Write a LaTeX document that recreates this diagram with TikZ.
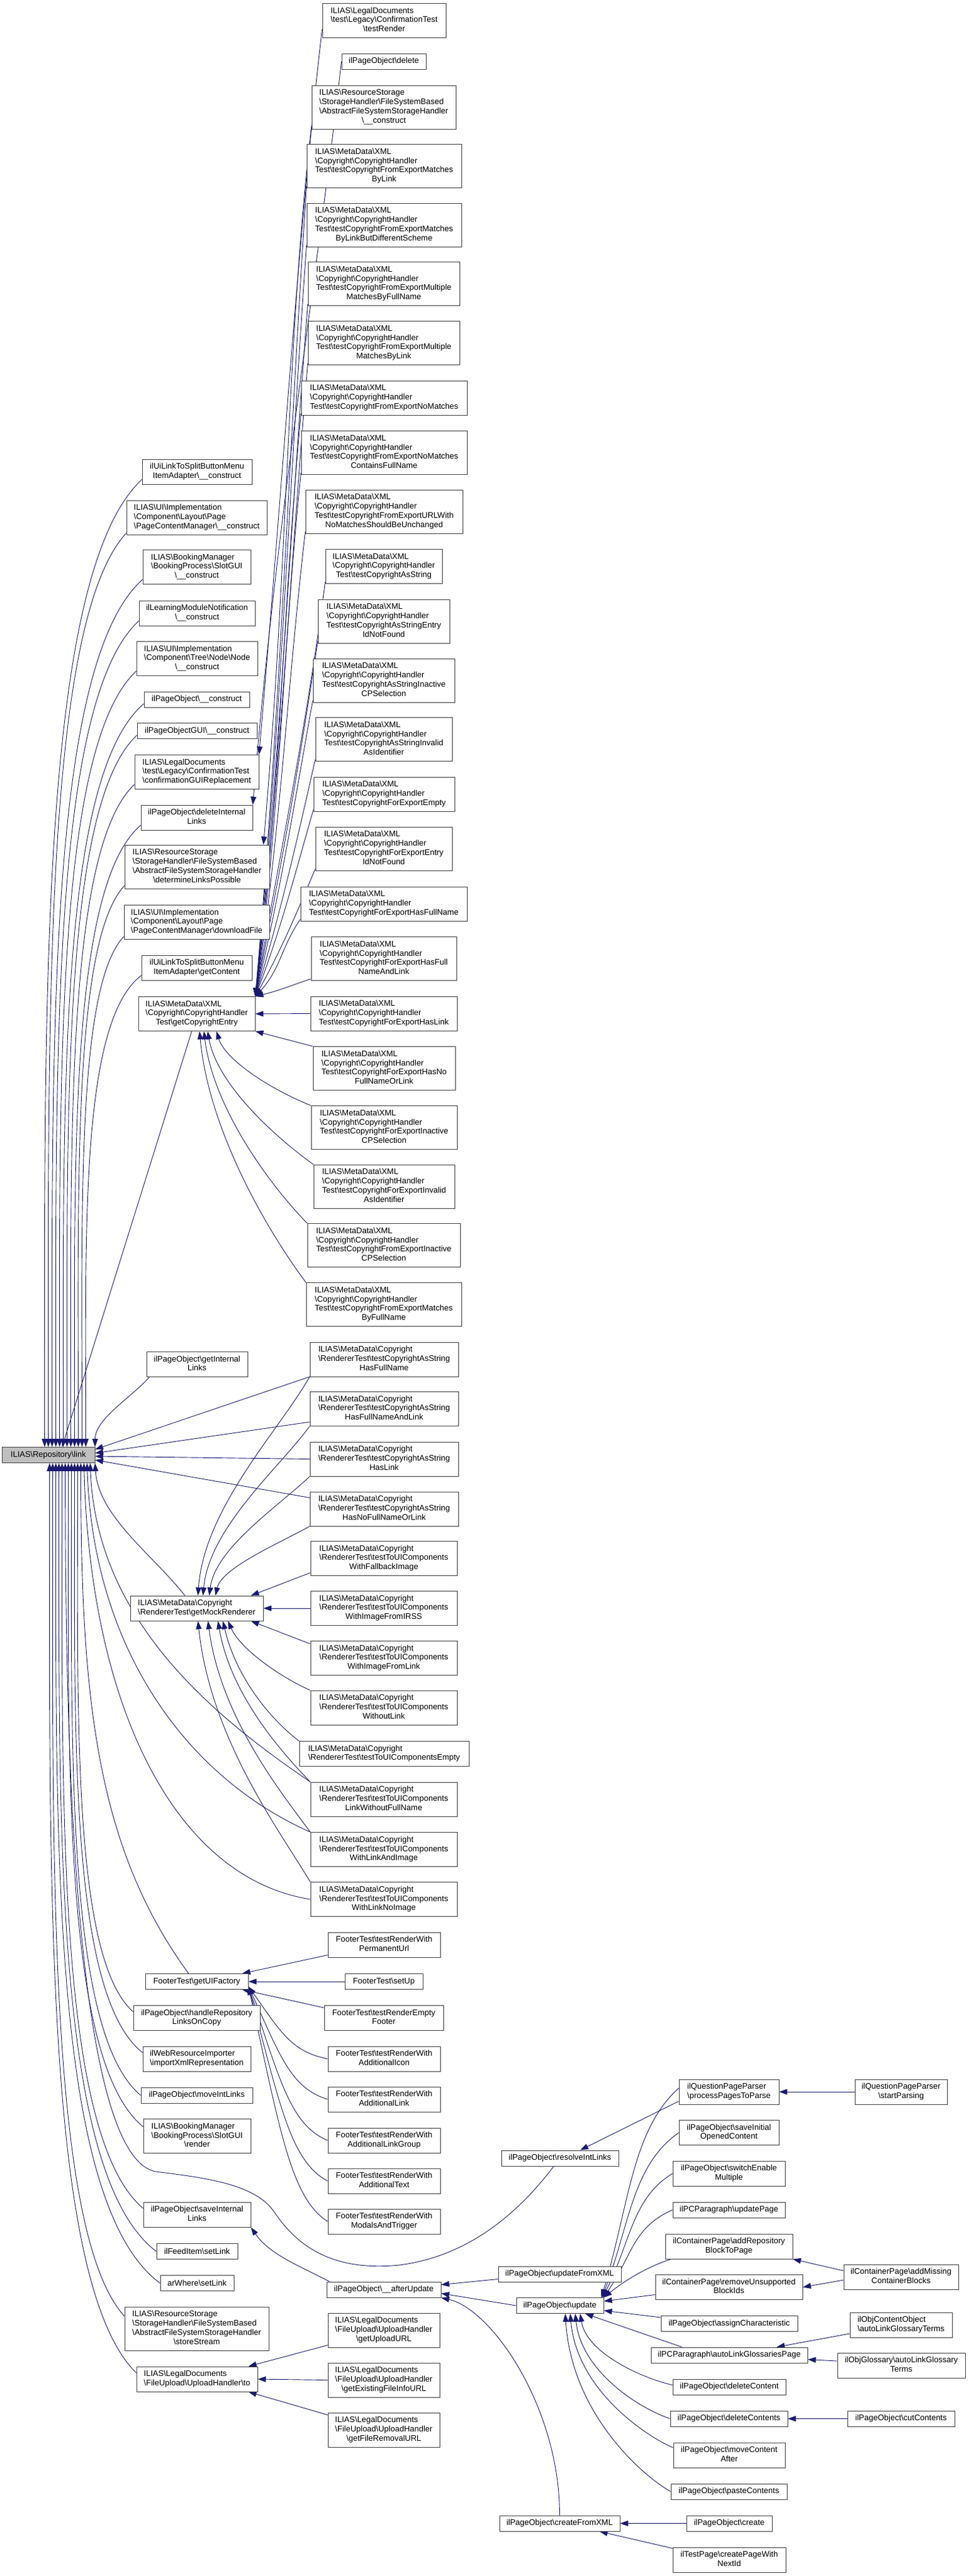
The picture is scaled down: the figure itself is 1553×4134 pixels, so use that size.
\documentclass[tikz,border=0pt]{standalone}
\usepackage{fontspec}
\setmainfont{Liberation Sans}
\usetikzlibrary{arrows.meta,calc}
\definecolor{mblue}{HTML}{191970}
\definecolor{rootgray}{HTML}{BFBFBF}
\definecolor{bord}{HTML}{404040}
\pgfdeclarelayer{bg}
\pgfsetlayers{bg,main}
\newcommand\BS{\textbackslash{}}
\newcommand\ML[2]{\begin{tabular}{@{}l@{}}#1\\\multicolumn{1}{@{}c@{}}{#2}\end{tabular}}
\newcommand\nodefont{\fontsize{13}{14.8}\selectfont}
\newcommand\ND[6]{\node[box,minimum width=#4pt,minimum height=#5pt] (#1) at (#2,-#3) {#6};}
\newcommand\cv[7][]{\draw[e,#1] let \p1=(#2), \p2=(#3) in (\p1) .. controls ({\x1+(#4)},{\y1+(#5)*(\y2-\y1)}) and ({\x2+(#6)},{\y2-(#7)*(\y2-\y1)}) .. (\p2);}
\newcommand\CHa{ILIAS\BS MetaData\BS XML\\\BS Copyright\BS CopyrightHandler\\}
\newcommand\CHb{ILIAS\BS MetaData\BS XML\\\BS Copyright\BS CopyrightHandler}
\newcommand\RTa{ILIAS\BS MetaData\BS Copyright\\\BS RendererTest\BS }
\begin{document}
\begin{tikzpicture}[x=1pt,y=1pt,
 box/.style={draw=bord,line width=0.9pt,fill=white,inner sep=0pt,font=\nodefont,align=center},
 e/.style={draw=mblue,line width=0.9pt,-{Triangle[length=13pt,width=9pt]}}]
\useasboundingbox (0,0) rectangle (1553,-4134);
% root
\node[box,fill=rootgray,minimum width=149pt,minimum height=25pt] (root) at (77.5,-2335) {ILIAS\BS Repository\BS link};
% column 2
\ND{c2a}{316}{757}{176}{40}{\ML{ilUiLinkToSplitButtonMenu}{ItemAdapter\BS\_\_construct}}
\ND{c2b}{315.5}{830.5}{225}{55}{\ML{ILIAS\BS UI\BS Implementation\\\BS Component\BS Layout\BS Page}{\BS PageContentManager\BS\_\_construct}}
\ND{c2c}{315.5}{910}{173}{55}{\ML{ILIAS\BS BookingManager\\\BS BookingProcess\BS SlotGUI}{\BS\_\_construct}}
\ND{c2d}{316}{984}{186}{40}{\ML{ilLearningModuleNotification}{\BS\_\_construct}}
\ND{c2e}{316}{1057}{194}{55}{\ML{ILIAS\BS UI\BS Implementation\\\BS Component\BS Tree\BS Node\BS Node}{\BS\_\_construct}}
\ND{c2f}{315.5}{1122.5}{169}{25}{ilPageObject\BS\_\_construct}
\ND{c2g}{316}{1173}{192}{25}{ilPageObjectGUI\BS\_\_construct}
\ND{c2h}{315.5}{1239}{199}{55}{\ML{ILIAS\BS LegalDocuments\\\BS test\BS Legacy\BS ConfirmationTest}{\BS confirmationGUIReplacement}}
\ND{c2i}{315.5}{1312}{179}{40}{\ML{ilPageObject\BS deleteInternal}{Links}}
\ND{c2j}{316}{1391}{232}{70}{\ML{ILIAS\BS ResourceStorage\\\BS StorageHandler\BS FileSystemBased\\\BS AbstractFileSystemStorageHandler}{\BS determineLinksPossible}}
\ND{c2k}{315.5}{1480}{233}{55}{\ML{ILIAS\BS UI\BS Implementation\\\BS Component\BS Layout\BS Page}{\BS PageContentManager\BS downloadFile}}
\ND{c2l}{315.5}{1553}{177}{40}{\ML{ilUiLinkToSplitButtonMenu}{ItemAdapter\BS getContent}}
\ND{c2m}{315.5}{1627}{187}{55}{\ML{\CHb}{Test\BS getCopyrightEntry}}
\ND{c2n}{316}{2189.5}{162}{40}{\ML{ilPageObject\BS getInternal}{Links}}
\ND{c2o}{315.5}{2581}{213}{40}{\ML{ILIAS\BS MetaData\BS Copyright}{\BS RendererTest\BS getMockRenderer}}
\ND{c2p}{315.5}{3180}{165}{25}{FooterTest\BS getUIFactory}
\ND{c2q}{315.5}{3238.5}{203}{40}{\ML{ilPageObject\BS handleRepository}{LinksOnCopy}}
\ND{c2r}{315.5}{3304}{173}{40}{\ML{ilWebResourceImporter}{\BS importXmlRepresentation}}
\ND{c2s}{315.5}{3362.5}{179}{25}{ilPageObject\BS moveIntLinks}
\ND{c2t}{316}{3428}{172}{55}{\ML{ILIAS\BS BookingManager\\\BS BookingProcess\BS SlotGUI}{\BS render}}
\ND{c2u}{316}{3554}{172}{40}{\ML{ilPageObject\BS saveInternal}{Links}}
\ND{c2v}{316}{3613}{130}{25}{ilFeedItem\BS setLink}
\ND{c2w}{316}{3664}{118}{25}{arWhere\BS setLink}
\ND{c2x}{315.5}{3737}{231}{70}{\ML{ILIAS\BS ResourceStorage\\\BS StorageHandler\BS FileSystemBased\\\BS AbstractFileSystemStorageHandler}{\BS storeStream}}
\ND{c2y}{316}{3818}{194}{40}{\ML{ILIAS\BS LegalDocuments}{\BS FileUpload\BS UploadHandler\BS to}}
% column 3 top
\ND{t1}{616}{33}{198}{55}{\ML{ILIAS\BS LegalDocuments\\\BS test\BS Legacy\BS ConfirmationTest}{\BS testRender}}
\ND{t2}{615.5}{98.5}{135}{25}{ilPageObject\BS delete}
\ND{t3}{615.5}{172}{231}{70}{\ML{ILIAS\BS ResourceStorage\\\BS StorageHandler\BS FileSystemBased\\\BS AbstractFileSystemStorageHandler}{\BS\_\_construct}}
\ND{t4}{616}{266.5}{248}{70}{\ML{\CHa Test\BS testCopyrightFromExportMatches}{ByLink}}
\ND{t5}{616}{361}{248}{70}{\ML{\CHa Test\BS testCopyrightFromExportMatches}{ByLinkButDifferentScheme}}
\ND{t6}{615.5}{455.5}{243}{70}{\ML{\CHa Test\BS testCopyrightFromExportMultiple}{MatchesByFullName}}
\ND{t7}{615.5}{550.5}{243}{70}{\ML{\CHa Test\BS testCopyrightFromExportMultiple}{MatchesByLink}}
\ND{t8}{616}{638.5}{266}{55}{\ML{\CHb}{Test\BS testCopyrightFromExportNoMatches}}
\ND{t9}{616}{726.5}{266}{70}{\ML{\CHa Test\BS testCopyrightFromExportNoMatches}{ContainsFullName}}
\ND{t10}{616}{821}{252}{70}{\ML{\CHa Test\BS testCopyrightFromExportURLWith}{NoMatchesShouldBeUnchanged}}
\ND{t11}{615.5}{909}{187}{55}{\ML{\CHb}{Test\BS testCopyrightAsString}}
\ND{t12}{615.5}{997}{211}{70}{\ML{\CHa Test\BS testCopyrightAsStringEntry}{IdNotFound}}
\ND{t13}{615.5}{1092}{227}{70}{\ML{\CHa Test\BS testCopyrightAsStringInactive}{CPSelection}}
\ND{t14}{615.5}{1186.5}{219}{70}{\ML{\CHa Test\BS testCopyrightAsStringInvalid}{AsIdentifier}}
\ND{t15}{616}{1274.5}{226}{55}{\ML{\CHb}{Test\BS testCopyrightForExportEmpty}}
\ND{t16}{615.5}{1362}{219}{70}{\ML{\CHa Test\BS testCopyrightForExportEntry}{IdNotFound}}
\ND{t17}{615.5}{1450.5}{267}{55}{\ML{\CHb}{Test\BS testCopyrightForExportHasFullName}}
\ND{t18}{615.5}{1538.5}{233}{70}{\ML{\CHa Test\BS testCopyrightForExportHasFull}{NameAndLink}}
\ND{t19}{615.5}{1626.5}{235}{55}{\ML{\CHb}{Test\BS testCopyrightForExportHasLink}}
\ND{t20}{616}{1714.5}{228}{70}{\ML{\CHa Test\BS testCopyrightForExportHasNo}{FullNameOrLink}}
\ND{t21}{616}{1809.5}{234}{70}{\ML{\CHa Test\BS testCopyrightForExportInactive}{CPSelection}}
\ND{t22}{616}{1904}{226}{70}{\ML{\CHa Test\BS testCopyrightForExportInvalid}{AsIdentifier}}
\ND{t23}{615.5}{1998.5}{245}{70}{\ML{\CHa Test\BS testCopyrightFromExportInactive}{CPSelection}}
\ND{t24}{615.5}{2093.5}{249}{70}{\ML{\CHa Test\BS testCopyrightFromExportMatches}{ByFullName}}
% renderer tests
\ND{r1}{616}{2181.5}{238}{55}{\ML{\RTa testCopyrightAsString}{HasFullName}}
\ND{r2}{616}{2261}{238}{55}{\ML{\RTa testCopyrightAsString}{HasFullNameAndLink}}
\ND{r3}{616}{2341.5}{238}{55}{\ML{\RTa testCopyrightAsString}{HasLink}}
\ND{r4}{616}{2421.5}{238}{55}{\ML{\RTa testCopyrightAsString}{HasNoFullNameOrLink}}
\ND{r5}{615.5}{2501}{235}{55}{\ML{\RTa testToUIComponents}{WithFallbackImage}}
\ND{r6}{615.5}{2581}{235}{55}{\ML{\RTa testToUIComponents}{WithImageFromIRSS}}
\ND{r7}{615.5}{2661}{235}{55}{\ML{\RTa testToUIComponents}{WithImageFromLink}}
\ND{r8}{615.5}{2740.5}{235}{55}{\ML{\RTa testToUIComponents}{WithoutLink}}
\ND{r9}{616}{2814.5}{272}{40}{\ML{ILIAS\BS MetaData\BS Copyright}{\BS RendererTest\BS testToUIComponentsEmpty}}
\ND{r10}{615.5}{2887.5}{235}{55}{\ML{\RTa testToUIComponents}{LinkWithoutFullName}}
\ND{r11}{615.5}{2968}{235}{55}{\ML{\RTa testToUIComponents}{WithLinkAndImage}}
\ND{r12}{615.5}{3048}{235}{55}{\ML{\RTa testToUIComponents}{WithLinkNoImage}}
% footer tests
\ND{f1}{616}{3121}{180}{40}{\ML{FooterTest\BS testRenderWith}{PermanentUrl}}
\ND{f2}{615.5}{3180}{125}{25}{FooterTest\BS setUp}
\ND{f3}{615.5}{3238.5}{191}{40}{\ML{FooterTest\BS testRenderEmpty}{Footer}}
\ND{f4}{616}{3304}{180}{40}{\ML{FooterTest\BS testRenderWith}{AdditionalIcon}}
\ND{f5}{616}{3369}{180}{40}{\ML{FooterTest\BS testRenderWith}{AdditionalLink}}
\ND{f6}{616}{3435}{180}{40}{\ML{FooterTest\BS testRenderWith}{AdditionalLinkGroup}}
\ND{f7}{616}{3500}{180}{40}{\ML{FooterTest\BS testRenderWith}{AdditionalText}}
\ND{f8}{616}{3565}{180}{40}{\ML{FooterTest\BS testRenderWith}{ModalsAndTrigger}}
\ND{a1}{615.5}{3674.5}{183}{25}{ilPageObject\BS\_\_afterUpdate}
\ND{u1}{615.5}{3739.5}{179}{55}{\ML{ILIAS\BS LegalDocuments\\\BS FileUpload\BS UploadHandler}{\BS getUploadURL}}
\ND{u2}{615.5}{3819.5}{179}{55}{\ML{ILIAS\BS LegalDocuments\\\BS FileUpload\BS UploadHandler}{\BS getExistingFileInfoURL}}
\ND{u3}{615.5}{3899.5}{179}{55}{\ML{ILIAS\BS LegalDocuments\\\BS FileUpload\BS UploadHandler}{\BS getFileRemovalURL}}
% column 4
\ND{d1}{898}{3463.5}{188}{25}{ilPageObject\BS resolveIntLinks}
\ND{d2}{897.5}{3649.5}{197}{25}{ilPageObject\BS updateFromXML}
\ND{d3}{898}{3700}{140}{25}{ilPageObject\BS update}
\ND{d4}{897.5}{4049.5}{193}{25}{ilPageObject\BS createFromXML}
% column 5
\ND{e1}{1169}{3357}{160}{40}{\ML{ilQuestionPageParser}{\BS processPagesToParse}}
\ND{e2}{1169}{3422.5}{160}{40}{\ML{ilPageObject\BS saveInitial}{OpenedContent}}
\ND{e3}{1169}{3488}{180}{40}{\ML{ilPageObject\BS switchEnable}{Multiple}}
\ND{e4}{1169}{3546.5}{180}{25}{ilPCParagraph\BS updatePage}
\ND{e5}{1169}{3605}{204}{40}{\ML{ilContainerPage\BS addRepository}{BlockToPage}}
\ND{e6}{1169}{3670.5}{236}{40}{\ML{ilContainerPage\BS removeUnsupported}{BlockIds}}
\ND{e7}{1169.5}{3729}{219}{25}{ilPageObject\BS assignCharacteristic}
\ND{e8}{1169.5}{3779.5}{251}{25}{ilPCParagraph\BS autoLinkGlossariesPage}
\ND{e9}{1169.5}{3830.5}{181}{25}{ilPageObject\BS deleteContent}
\ND{e10}{1169}{3881.5}{188}{25}{ilPageObject\BS deleteContents}
\ND{e11}{1169.5}{3940}{179}{40}{\ML{ilPageObject\BS moveContent}{After}}
\ND{e12}{1169}{3998.5}{186}{25}{ilPageObject\BS pasteContents}
\ND{e13}{1169.5}{4049.5}{137}{25}{ilPageObject\BS create}
\ND{e14}{1169.5}{4108}{181}{40}{\ML{ilTestPage\BS createPageWith}{NextId}}
% column 6
\ND{g1}{1445}{3357}{148}{40}{\ML{ilQuestionPageParser}{\BS startParsing}}
\ND{g2}{1445}{3654}{184}{40}{\ML{ilContainerPage\BS addMissing}{ContainerBlocks}}
\ND{g3}{1445}{3731}{164}{40}{\ML{ilObjContentObject}{\BS autoLinkGlossaryTerms}}
\ND{g4}{1445.5}{3796}{205}{40}{\ML{ilObjGlossary\BS autoLinkGlossary}{Terms}}
\ND{g5}{1445}{3881.5}{172}{25}{ilPageObject\BS cutContents}

\begin{pgfonlayer}{bg}
\fill[white] (0,0) rectangle (1553,-4134);
% top of column 3 -> column 2
\cv{[yshift=14pt]t1.south west}{c2h.north east}{-40}{0.3}{40}{0.4}
\cv{t2.west}{c2i.north east}{-40}{0.3}{40}{0.4}
\cv{[yshift=5pt]t3.south west}{[xshift=-10pt]c2j.north east}{-40}{0.3}{40}{0.4}
% copyright handler tests -> getCopyrightEntry
\foreach \k in {t4,t5,t6,t7,t8,t9,t10,t11,t12,t13,t14,t15,t16,t17,t18}{\cv{[yshift=3pt]\k.south west}{c2m.north east}{-30}{0.35}{40}{0.35}}
\draw[e] (t19.west) -- (c2m.east);
\draw[e] (t20.north west) -- (c2m.south east);
\cv{t21.north west}{[xshift=31.5pt]c2m.south}{-60}{0.2}{15}{0.4}
\cv{t22.north west}{[xshift=17.5pt]c2m.south}{-60}{0.2}{15}{0.4}
\cv{t23.north west}{[xshift=11.5pt]c2m.south}{-60}{0.2}{15}{0.4}
\cv{t24.north west}{[xshift=4.5pt]c2m.south}{-60}{0.2}{15}{0.4}
% column 2 (above) -> root
\cv{[yshift=8pt]c2a.south west}{[xshift=69pt]root.north west}{-166}{0.1}{0}{0.45}
\cv{[yshift=3pt]c2b.south west}{[xshift=75pt]root.north west}{-135}{0.1}{0}{0.45}
\cv{[yshift=8pt]c2c.south west}{[xshift=81pt]root.north west}{-155}{0.1}{0}{0.45}
\cv{[yshift=8pt]c2d.south west}{[xshift=87pt]root.north west}{-143}{0.1}{0}{0.45}
\cv{[yshift=8pt]c2e.south west}{[xshift=93pt]root.north west}{-133}{0.1}{0}{0.45}
\cv{[yshift=6pt]c2f.south west}{[xshift=99pt]root.north west}{-139}{0.1}{0}{0.45}
\cv{[yshift=6pt]c2g.south west}{[xshift=105pt]root.north west}{-122}{0.1}{0}{0.45}
\cv{[yshift=8pt]c2h.south west}{[xshift=111pt]root.north west}{-112}{0.1}{0}{0.45}
\cv{[yshift=8pt]c2i.south west}{[xshift=117pt]root.north west}{-116}{0.1}{0}{0.45}
\cv{[yshift=5pt]c2j.south west}{[xshift=123pt]root.north west}{-84}{0.1}{0}{0.45}
\cv{[yshift=5pt]c2k.south west}{[xshift=129pt]root.north west}{-77}{0.1}{0}{0.45}
\cv{[yshift=8pt]c2l.south west}{[xshift=135pt]root.north west}{-99}{0.1}{0}{0.45}
\draw[e] ([xshift=-8pt]c2m.south) -- ([xshift=97pt]root.north west);
\cv{[xshift=5pt]c2n.south west}{root.north east}{-30}{0.3}{0}{0.4}
% renderer tests -> root
\draw[e] (r1.south west) -- ([yshift=9pt]root.east);
\draw[e] ([yshift=7pt]r2.south west) -- ([yshift=3pt]root.east);
\draw[e] (r3.west) -- ([yshift=-2pt]root.east);
\draw[e] ([yshift=-10pt]r4.north west) -- ([yshift=-8pt]root.east);
\cv{r10.north west}{[xshift=142pt]root.south west}{-150}{0.2}{10}{0.5}
\cv{r11.north west}{[xshift=137pt]root.south west}{-200}{0.15}{10}{0.5}
\cv{r12.west}{[xshift=132pt]root.south west}{-220}{0.05}{10}{0.55}
% renderer tests -> getMockRenderer
\cv{r1.south west}{[xshift=2pt]c2o.north}{-50}{0.25}{10}{0.4}
\cv{r2.south west}{[xshift=10pt]c2o.north}{-50}{0.25}{10}{0.4}
\cv{r3.south west}{[xshift=20pt]c2o.north}{-50}{0.25}{10}{0.4}
\cv{r4.south west}{[xshift=30pt]c2o.north}{-50}{0.25}{10}{0.4}
\draw[e] ([yshift=5pt]r5.south west) -- ([xshift=-20pt]c2o.north east);
\draw[e] (r6.west) -- (c2o.east);
\draw[e] ([yshift=-5pt]r7.north west) -- ([xshift=-20pt]c2o.south east);
\cv{r8.north west}{[xshift=50pt]c2o.south}{-50}{0.2}{20}{0.4}
\cv{r9.north west}{[xshift=42pt]c2o.south}{-50}{0.2}{20}{0.45}
\cv{r10.north west}{[xshift=34pt]c2o.south}{-50}{0.2}{20}{0.45}
\cv{r11.north west}{[xshift=18pt]c2o.south}{-50}{0.2}{20}{0.45}
\cv{r12.north west}{[xshift=2pt]c2o.south}{-50}{0.2}{20}{0.45}
% column 2 (below) -> root
\cv{[xshift=88pt]c2o.north west}{root.south east}{-50}{0.3}{5}{0.4}
\cv{[xshift=-13pt]c2p.north}{[xshift=127pt]root.south west}{-150}{0.25}{0}{0.45}
\cv{[yshift=10pt]c2q.west}{[xshift=122pt]root.south west}{-99}{0.1}{0}{0.45}
\cv{[yshift=10pt]c2r.west}{[xshift=117pt]root.south west}{-119}{0.1}{0}{0.45}
\cv{c2s.west}{[xshift=112pt]root.south west}{-121}{0.1}{0}{0.45}
\cv{[yshift=15pt]c2t.west}{[xshift=107pt]root.south west}{-130}{0.1}{0}{0.45}
\cv{[yshift=10pt]c2u.west}{[xshift=97pt]root.south west}{-140}{0.1}{0}{0.45}
\cv{c2v.west}{[xshift=92pt]root.south west}{-166}{0.1}{0}{0.45}
\cv{c2w.west}{[xshift=87pt]root.south west}{-177}{0.1}{0}{0.45}
\cv{[yshift=20pt]c2x.west}{[xshift=82pt]root.south west}{-125}{0.1}{0}{0.45}
\cv{[yshift=10pt]c2y.west}{[xshift=77pt]root.south west}{-149}{0.1}{0}{0.45}
\draw[e] ([xshift=-10pt]d1.south) .. controls (840,-3540) and (760,-3620) .. (640,-3635)
  .. controls (540,-3645) and (480,-3610) .. (440,-3550)
  .. controls (410,-3505) and (330,-3495) .. (250,-3485)
  .. controls (110,-3460) and (105,-2700) .. ([xshift=102pt]root.south west);
% footer tests -> getUIFactory
\draw[e] ([yshift=4pt]f1.south west) -- ([xshift=-10pt]c2p.north east);
\draw[e] (f2.west) -- (c2p.east);
\draw[e] ([yshift=-4pt]f3.north west) -- ([xshift=-10pt]c2p.south east);
\foreach \k in {f4,f5,f6,f7,f8}{\cv{\k.west}{[yshift=5pt]c2p.south east}{-60}{0.1}{50}{0.6}}
% upload handler
\draw[e] ([yshift=-24pt]u1.west) -- ([xshift=-15pt]c2y.north east);
\draw[e] (u2.west) -- (c2y.east);
\draw[e] ([yshift=24pt]u3.west) -- ([xshift=-15pt]c2y.south east);
% afterUpdate
\cv{[xshift=5pt]a1.north west}{c2u.south east}{-50}{0.3}{30}{0.5}
\draw[e] ([yshift=-8pt]d2.west) -- ([yshift=8pt]a1.east);
\draw[e] (d3.west) -- ([yshift=-6pt]a1.east);
\cv{d4.north}{a1.south east}{0}{0.5}{80}{0.05}
% column 5 -> column 4
\draw[e] ([yshift=-15pt]e1.west) -- ([xshift=-62pt]d1.north east);
\cv{[yshift=6pt]e1.west}{[xshift=-4pt]d3.north east}{-75}{0.2}{45}{0.45}
\cv{e2.west}{[xshift=-3pt]d3.north east}{-75}{0.2}{45}{0.45}
\cv{e3.west}{[xshift=-2pt]d3.north east}{-65}{0.2}{45}{0.45}
\cv{e4.west}{[xshift=-1pt]d3.north east}{-65}{0.2}{45}{0.45}
\cv{[xshift=10pt]e5.south west}{d3.north east}{-40}{0.2}{30}{0.4}
\draw[e] ([yshift=-12pt]e6.west) -- ([yshift=7pt]d3.east);
\draw[e] ([yshift=10pt]e7.west) -- ([yshift=-8pt]d3.east);
\draw[e] ([xshift=50pt]e8.north west) -- ([xshift=-30pt]d3.south east);
\cv{[yshift=3pt]e9.west}{[xshift=-38pt]d3.south east}{-50}{0.1}{10}{0.55}
\cv{e10.west}{[xshift=-46pt]d3.south east}{-50}{0.1}{10}{0.55}
\cv{[yshift=12pt]e11.west}{[xshift=-54pt]d3.south east}{-50}{0.1}{10}{0.55}
\cv{e12.west}{[xshift=-62pt]d3.south east}{-50}{0.1}{10}{0.55}
\draw[e] (e13.west) -- (d4.east);
\draw[e] ([yshift=-2pt]e14.north west) -- ([xshift=-33pt]d4.south east);
% column 6 -> column 5
\draw[e] (g1.west) -- (e1.east);
\draw[e] ([yshift=10pt]g2.west) -- (e5.south east);
\draw[e] ([yshift=-5pt]g2.west) -- (e6.east);
\draw[e] ([yshift=-14pt]g3.west) -- ([xshift=-50pt]e8.north east);
\draw[e] ([yshift=7pt]g4.west) -- ([yshift=-7pt]e8.east);
\draw[e] (g5.west) -- (e10.east);
\end{pgfonlayer}
\end{tikzpicture}
\end{document}
